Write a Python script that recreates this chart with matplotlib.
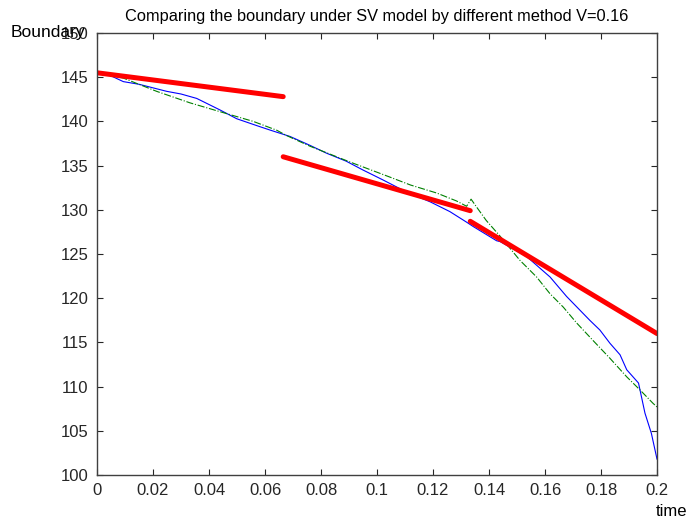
import matplotlib.pyplot as plt

plt.rcParams['font.family'] = ['Liberation Sans', 'DejaVu Sans']

# red (thick) boundary, three pieces
red1_t = [0.0, 0.0665]
red1_b = [145.5, 142.8]
red2_t = [0.0665, 0.1333]
red2_b = [136.0, 129.9]
red3_t = [0.1333, 0.2]
red3_b = [128.7, 116.0]

# blue boundary
blue_t = [0.0, 0.004, 0.0094, 0.015, 0.0249, 0.0300, 0.0356, 0.0439, 0.0499, 0.0582,
          0.062, 0.0689, 0.0760, 0.0820, 0.0890, 0.0950, 0.1020, 0.1106, 0.1190, 0.1260,
          0.1320, 0.1344, 0.1427, 0.1440, 0.1535, 0.1618, 0.1677, 0.1760, 0.1796, 0.1832,
          0.1868, 0.1892, 0.1934, 0.1957, 0.1980, 0.2]
blue_b = [145.5, 145.3, 144.5, 144.2, 143.4, 143.1, 142.6, 141.3, 140.3, 139.4,
          139.0, 138.3, 137.3, 136.4, 135.5, 134.5, 133.4, 132.0, 130.9, 129.8,
          128.6, 128.1, 126.5, 126.4, 124.7, 122.4, 120.2, 117.5, 116.4, 114.9,
          113.6, 111.9, 110.4, 107.0, 104.7, 101.8]

# green boundary (dash-dot)
green_t = [0.0, 0.0094, 0.0213, 0.0332, 0.0450, 0.0558, 0.0642, 0.0677, 0.0760, 0.0904,
           0.1046, 0.1120, 0.1213, 0.1284, 0.1320, 0.1336, 0.1356, 0.1390, 0.1440, 0.1510,
           0.1570, 0.1618, 0.1665, 0.1713, 0.1772, 0.1832, 0.1892, 0.1940, 0.1986, 0.2]
green_b = [145.5, 144.9, 143.4, 142.1, 141.0, 140.0, 139.0, 138.4, 137.2, 135.4,
           133.7, 132.8, 131.9, 131.0, 130.4, 131.2, 130.3, 128.8, 127.0, 124.3,
           122.4, 120.5, 119.0, 117.2, 115.2, 113.2, 111.1, 109.6, 108.1, 107.7]

xticks = [0, 0.02, 0.04, 0.06, 0.08, 0.1, 0.12, 0.14, 0.16, 0.18, 0.2]
xtick_labels = ['0', '0.02', '0.04', '0.06', '0.08', '0.1', '0.12', '0.14', '0.16', '0.18', '0.2']
yticks = [100, 105, 110, 115, 120, 125, 130, 135, 140, 145, 150]

fig = plt.figure(figsize=(6.89, 5.25), dpi=100)
ax = fig.add_axes([97 / 689, 50 / 525, 560 / 689, 442 / 525])

ax.plot(blue_t, blue_b, color='#0000ff', lw=0.8)
ax.plot(green_t, green_b, color='#008000', lw=0.8, ls='-.')
for t, b in [(red1_t, red1_b), (red2_t, red2_b), (red3_t, red3_b)]:
    ax.plot(t, b, color='#ff0000', lw=3.6, solid_capstyle='round')

ax.set_xlim(0, 0.2)
ax.set_ylim(100, 150)
ax.set_xticks(xticks)
ax.set_xticklabels(xtick_labels)
ax.set_yticks(yticks)
ax.tick_params(direction='in', length=4, width=0.8, top=True, right=True,
               labelsize=12, colors='#262626', pad=6)
for s in ax.spines.values():
    s.set_color('#404040')
    s.set_linewidth(1.0)

ax.set_title('Comparing the boundary under SV model by different method V=0.16',
             fontsize=11.8, pad=9)
fig.text(11 / 689, 1 - 33 / 525, 'Boundary', fontsize=12.5, va='center', ha='left')
fig.text(656 / 689, 1 - 511 / 525, 'time', fontsize=12, va='center', ha='left')

fig.savefig('out.png', dpi=100)
